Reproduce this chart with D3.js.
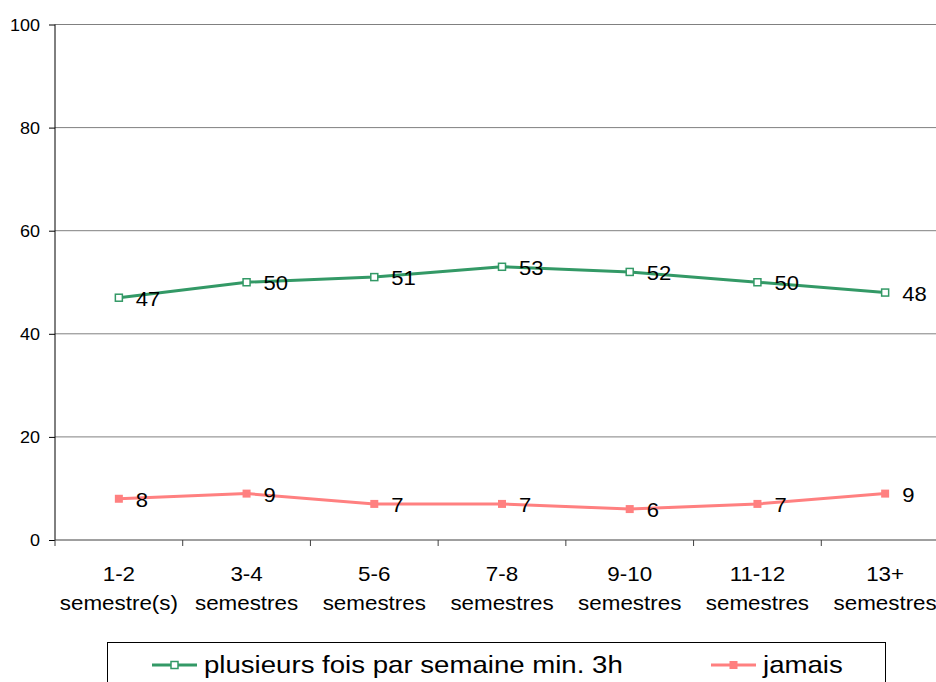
<!DOCTYPE html>
<html>
<head>
<meta charset="utf-8">
<script src="https://cdn.jsdelivr.net/npm/d3@7/dist/d3.min.js"></script>
<style>
  html, body { margin: 0; padding: 0; background: #fff; overflow: hidden; }
  svg { display: block; font-family: "Liberation Sans", Arial, sans-serif; }
</style>
</head>
<body>
<svg id="chart" width="936" height="682"></svg>
<script>
// Category labels (two lines each)
const categories = ["1-2", "3-4", "5-6", "7-8", "9-10", "11-12", "13+"];
const categorySub = ["semestre(s)", "semestres", "semestres", "semestres", "semestres", "semestres", "semestres"];

// Series values (percent)
const seriesNames = ["plusieurs fois par semaine min. 3h", "jamais"];
const plusieurs = [47, 50, 51, 53, 52, 50, 48];
const jamais = [8, 9, 7, 7, 6, 7, 9];

// Y axis ticks
const yTicks = [0, 20, 40, 60, 80, 100];

const GREEN = "#339966";
const PINK = "#FF8080";

const svg = d3.select("#chart");
const W = 936, H = 682;
const margin = { left: 55, top: 24.5, bottom: 540, right: 949 };

const x = d3.scaleBand().domain(categories).range([margin.left, margin.right]).paddingInner(0).paddingOuter(0);
const y = d3.scaleLinear().domain([0, 100]).range([margin.bottom, margin.top]);
const cx = c => x(c) + x.bandwidth() / 2;

// helper: horizontally widened text
function wideText(g, str, px, py, size, sx, anchor, baseline) {
  return g.append("text")
    .attr("transform", `translate(${px},${py}) scale(${sx},1)`)
    .attr("font-size", size)
    .attr("text-anchor", anchor || "start")
    .attr("dominant-baseline", baseline || "alphabetic")
    .attr("fill", "#000")
    .text(str);
}

// gridlines
svg.append("g").selectAll("line")
  .data(yTicks.filter(d => d > 0))
  .join("line")
  .attr("x1", margin.left).attr("x2", W)
  .attr("y1", d => y(d)).attr("y2", d => y(d))
  .attr("stroke", "#808080").attr("stroke-width", 1);

// y axis
const yAxis = svg.append("g")
  .attr("transform", `translate(${margin.left},0)`)
  .call(d3.axisLeft(y).tickValues(yTicks).tickSize(6).tickPadding(0).tickFormat(() => ""));
yAxis.select(".domain").attr("stroke", "#000").attr("d", `M0,${y(0)}V${y(100)}`);
yAxis.selectAll(".tick line").attr("stroke", "#000");
const yl = svg.append("g");
yTicks.forEach(t => wideText(yl, String(t), 40, y(t) + 6, 17, 1.06, "end"));

// x axis
const xAxis = svg.append("g")
  .attr("transform", `translate(0,${margin.bottom})`)
  .call(d3.axisBottom(x).tickSize(0).tickFormat(() => ""));
xAxis.select(".domain").attr("stroke", "#404040").attr("d", `M${margin.left},0H${W}`);
const bounds = categories.map(c => x(c)).concat([margin.right]);
svg.append("g").selectAll("line")
  .data(bounds)
  .join("line")
  .attr("x1", d => d).attr("x2", d => d)
  .attr("y1", margin.bottom).attr("y2", margin.bottom + 6)
  .attr("stroke", "#404040").attr("stroke-width", 1);

const xl = svg.append("g");
categories.forEach((c, i) => {
  wideText(xl, c, cx(c), 581, 20, 1.12, "middle");
  wideText(xl, categorySub[i], cx(c), 610, 20, 1.12, "middle");
});

// lines
const line = d3.line().x((d, i) => cx(categories[i])).y(d => y(d));

function drawSeries(values, color, hollow) {
  const g = svg.append("g");
  g.append("path").datum(values)
    .attr("d", line)
    .attr("fill", "none").attr("stroke", color).attr("stroke-width", 3)
    .attr("stroke-linejoin", "round");
  const s = hollow ? 7 : 8;
  g.selectAll("rect").data(values).join("rect")
    .attr("x", (d, i) => cx(categories[i]) - s / 2)
    .attr("y", d => y(d) - s / 2)
    .attr("width", s).attr("height", s)
    .attr("fill", hollow ? "#fff" : color)
    .attr("stroke", color).attr("stroke-width", hollow ? 1.5 : 0);
  values.forEach((v, i) => {
    wideText(g, String(v), cx(categories[i]) + 17, y(v) + 8, 21, 1.05, "start");
  });
}
drawSeries(plusieurs, GREEN, true);
drawSeries(jamais, PINK, false);

// legend
const lg = svg.append("g");
lg.append("rect").attr("x", 107.5).attr("y", 642.5).attr("width", 778).attr("height", 80)
  .attr("fill", "#fff").attr("stroke", "#000").attr("stroke-width", 1);
const legendItems = [
  { name: seriesNames[0], color: GREEN, hollow: true, x0: 152 },
  { name: seriesNames[1], color: PINK, hollow: false, x0: 711 }
];
legendItems.forEach(it => {
  const ly = 665;
  lg.append("line").attr("x1", it.x0).attr("x2", it.x0 + 45).attr("y1", ly).attr("y2", ly)
    .attr("stroke", it.color).attr("stroke-width", 3);
  const s = it.hollow ? 7 : 8;
  lg.append("rect").attr("x", it.x0 + 22.5 - s / 2).attr("y", ly - s / 2).attr("width", s).attr("height", s)
    .attr("fill", it.hollow ? "#fff" : it.color).attr("stroke", it.color).attr("stroke-width", it.hollow ? 1.5 : 0);
  wideText(lg, it.name, it.x0 + 52, 673, 24, 1.15, "start");
});
</script>
</body>
</html>
